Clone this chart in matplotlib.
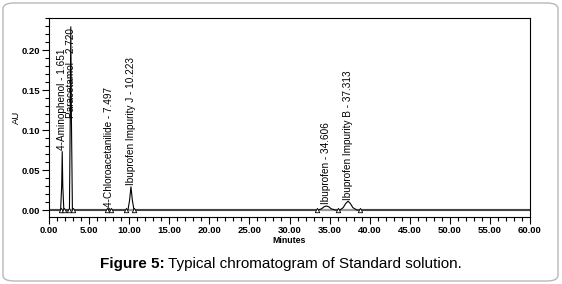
import matplotlib
matplotlib.use("Agg")
import matplotlib.pyplot as plt
from matplotlib.patches import FancyBboxPatch
from matplotlib.ticker import MultipleLocator, FormatStrFormatter

plt.rcParams["font.family"] = ["Liberation Sans", "DejaVu Sans"]

# peaks: name, retention time (min), apex height (AU)
peak_names = ["4-Aminophenol", "Paracetamol", "4-Chloroacetanilide",
              "Ibuprofen Impurity J", "Ibuprofen", "Ibuprofen Impurity B"]
peak_rt = [1.651, 2.720, 7.497, 10.223, 34.606, 37.313]
peak_height = [0.073, 0.229, 0.002, 0.029, 0.005, 0.011]
peak_label_rt = ["1.651", "2.720", "7.497", "10.223", "34.606", "37.313"]

# detector trace (minutes, AU)
trace_t = [0.0, 1.45, 1.58, 1.651, 1.72, 1.85, 2.55, 2.65, 2.720, 2.79, 2.92,
           7.35, 7.497, 7.65, 9.85, 10.05, 10.223, 10.40, 10.60,
           33.6, 34.0, 34.3, 34.606, 34.9, 35.2, 35.7,
           36.3, 36.7, 37.0, 37.313, 37.6, 37.9, 38.4, 60.0]
trace_au = [0.0, 0.0, 0.030, 0.073, 0.030, 0.0, 0.0, 0.120, 0.229, 0.120, 0.0,
            0.0, 0.002, 0.0, 0.0, 0.012, 0.029, 0.012, 0.0,
            0.0, 0.0015, 0.004, 0.005, 0.004, 0.0015, 0.0,
            0.0, 0.003, 0.008, 0.011, 0.008, 0.003, 0.0, 0.0]

# integration start/stop marks (minutes)
mark_t = [1.45, 1.85, 2.45, 2.95, 7.25, 7.75, 9.6, 10.6, 33.4, 36.1, 38.8]

fig = plt.figure(figsize=(5.62, 2.84), dpi=100)
fig.patches.append(FancyBboxPatch((3 / 562, 3 / 284), 555 / 562, 278 / 284,
                                  boxstyle="round,pad=0,rounding_size=0.02",
                                  transform=fig.transFigure, fill=False,
                                  edgecolor="#b8b8b8", linewidth=1.0))

ax = fig.add_axes([49 / 562, 1 - 217 / 284, 481 / 562, 199 / 284])

ax.axhline(0, color="#9a9a9a", linewidth=1.6, zorder=1)
ax.plot(trace_t, trace_au, color="black", linewidth=0.8, zorder=2)
ax.plot(mark_t, [0.0] * len(mark_t), linestyle="none", marker="^",
        markersize=3.2, markerfacecolor="white", markeredgecolor="black",
        markeredgewidth=0.6, zorder=3)

ymax = 0.24
for name, rt, h, lab in zip(peak_names, peak_rt, peak_height, peak_label_rt):
    txt = f"{name} - {lab}"
    if h > 0.2:
        ax.text(rt, ymax - 0.012, txt, rotation=90, ha="center", va="top",
                fontsize=7.2, color="black")
    else:
        ax.text(rt, h + 0.002, txt, rotation=90, ha="center", va="bottom",
                fontsize=7.2, color="black")

ax.set_xlim(0, 60)
ax.set_ylim(-0.00875, ymax)
ax.xaxis.set_major_locator(MultipleLocator(5))
ax.xaxis.set_minor_locator(MultipleLocator(1))
ax.yaxis.set_major_locator(MultipleLocator(0.05))
ax.yaxis.set_minor_locator(MultipleLocator(0.01))
ax.xaxis.set_major_formatter(FormatStrFormatter("%.2f"))
ax.yaxis.set_major_formatter(FormatStrFormatter("%.2f"))
ax.tick_params(which="major", direction="out", length=5, width=0.8,
               labelsize=6.8, pad=1.5)
ax.tick_params(which="minor", direction="out", length=3, width=0.8)
for lbl in ax.get_xticklabels() + ax.get_yticklabels():
    lbl.set_fontweight("bold")
for s in ax.spines.values():
    s.set_linewidth(0.8)

ax.set_xlabel("Minutes", fontsize=6.3, fontweight="bold", labelpad=0.5)
ax.set_ylabel("AU", fontsize=6.8)
ax.yaxis.set_label_coords(-0.058, 0.5)

# caption: bold lead-in followed by regular text, centred as one line
renderer = fig.canvas.get_renderer()
cap_y = 1 - 264 / 284
t1 = fig.text(0, cap_y, "Figure 5:", fontsize=11, fontweight="bold", va="center")
t2 = fig.text(0, cap_y, " Typical chromatogram of Standard solution.", fontsize=11, va="center")
w1 = t1.get_window_extent(renderer).width / fig.bbox.width
w2 = t2.get_window_extent(renderer).width / fig.bbox.width
x0 = 0.5 - (w1 + w2) / 2
t1.set_x(x0)
t2.set_x(x0 + w1)

fig.savefig("out.png", dpi=100)
